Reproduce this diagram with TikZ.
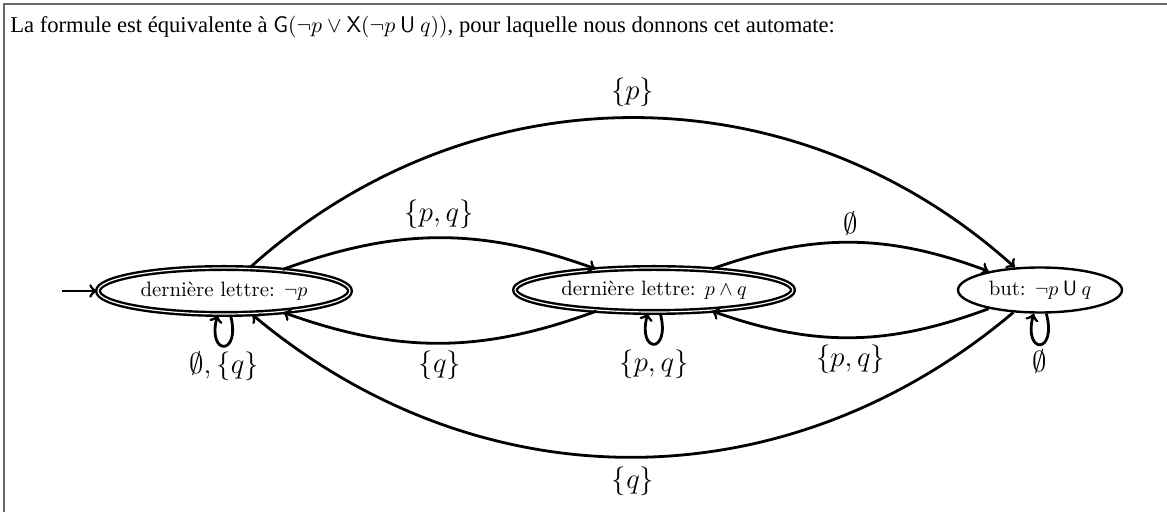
\documentclass[tikz,border=0pt]{standalone}
\usepackage{amssymb}
\usepackage{fontspec}
\newfontfamily\entete{Liberation Serif}
\usetikzlibrary{shapes.geometric}

\tikzset{
  etat/.style={draw, ellipse, line width=1.2pt, inner sep=0pt, font=\fontsize{10.4}{12}\selectfont},
  acceptant/.style={etat, double, double distance=0.6pt},
  fleche/.style={->, line width=1.4pt},
  etiq/.style={font=\fontsize{14}{16}\selectfont, inner sep=1pt},
  boucle/.style={loop below, min distance=7.5mm},
}

\begin{document}
\begin{tikzpicture}[x=0.5pt, y=-0.5pt]
\useasboundingbox (0,0) rectangle (1167,512);
\draw[line width=1pt, black!60] (4,512) -- (4,4) -- (1167,4);
\node[anchor=base west, inner sep=0pt, font=\entete\fontsize{11.3}{14}\selectfont] (titre) at (10,33)
  {La formule est équivalente à $\mathsf{G}(\neg p \vee \mathsf{X}(\neg p \mathbin{\mathsf{U}} q))$, pour laquelle nous donnons cet automate:};

% les trois etats
\node[acceptant, minimum width=126pt, minimum height=23pt] (gauche) at (224,291) {dernière lettre: $\neg p$};
\node[acceptant, minimum width=139pt, minimum height=22pt] (milieu) at (654,290) {dernière lettre: $p \wedge q$};
\node[etat, minimum width=82pt, minimum height=22.5pt] (but) at (1040,290) {but: $\neg p \mathbin{\mathsf{U}} q$};
\coordinate (init) at (62,291);

\draw[fleche] (init) -- (gauche);
\draw[fleche] (gauche) to[bend left=42] node[etiq, above=4pt] {$\{p\}$} (but);
\draw[fleche] (gauche) to[bend left=20] node[etiq, above=3pt] {$\{p,q\}$} (milieu);
\draw[fleche] (milieu) to[bend left=20] node[etiq, above=2pt] {$\emptyset$} (but);
\draw[fleche] (milieu) to[bend left=20] node[etiq, below=2pt] {$\{q\}$} (gauche);
\draw[fleche] (but) to[bend left=20] node[etiq, below=2pt] {$\{p,q\}$} (milieu);
\draw[fleche] (but) to[bend left=40] node[etiq, below=3pt] {$\{q\}$} (gauche);

% boucles
\draw[fleche] (gauche) to[boucle] node[etiq, below=1pt] {$\emptyset, \{q\}$} (gauche);
\draw[fleche] (milieu) to[boucle] node[etiq, below=1pt] {$\{p,q\}$} (milieu);
\draw[fleche] (but) to[boucle] node[etiq, below=1pt] {$\emptyset$} (but);
\end{tikzpicture}
\end{document}
